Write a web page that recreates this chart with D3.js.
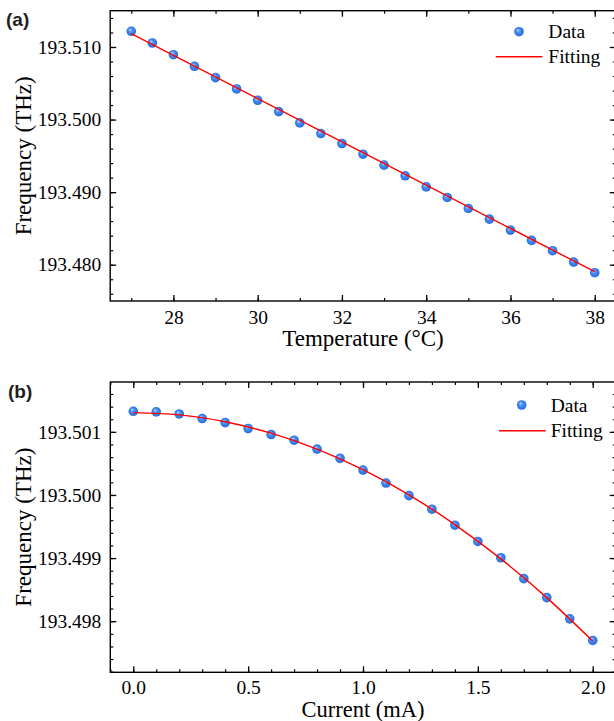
<!DOCTYPE html>
<html>
<head>
<meta charset="utf-8">
<script src="https://cdn.jsdelivr.net/npm/d3@7"></script>
<style>
  html, body { margin: 0; padding: 0; background: #fff; }
  svg { display: block; }
</style>
</head>
<body>
<script>
// ---------- Data ----------
// Panel (a): temperature sweep
const tempX = [27, 27.5, 28, 28.5, 29, 29.5, 30, 30.5, 31, 31.5, 32, 32.5, 33, 33.5, 34, 34.5, 35, 35.5, 36, 36.5, 37, 37.5, 38];
const tempFreq = [193.51216, 193.51055, 193.50894, 193.50734, 193.50578, 193.50422, 193.50266, 193.50110,
                  193.49954, 193.49807, 193.49670, 193.49523, 193.49372, 193.49225, 193.49073, 193.48927,
                  193.48775, 193.48628, 193.48477, 193.48335, 193.48193, 193.48037, 193.47890];
const tempFitX = [27, 32.5, 38];
const tempFitY = [193.51183, 193.49543, 193.47904];
const tempXTicks = [28, 30, 32, 34, 36, 38];
const tempYTicks = [193.480, 193.490, 193.500, 193.510];

// Panel (b): current sweep
const curX = [0.0, 0.1, 0.2, 0.3, 0.4, 0.5, 0.6, 0.7, 0.8, 0.9, 1.0, 1.1, 1.2, 1.3, 1.4, 1.5, 1.6, 1.7, 1.8, 1.9, 2.0];
const curFreq = [193.501326, 193.501316, 193.501284, 193.501211, 193.501147, 193.501053, 193.500958, 193.500868,
                 193.500726, 193.500579, 193.500395, 193.500189, 193.499989, 193.499774, 193.499521, 193.499263,
                 193.499005, 193.498674, 193.498374, 193.498037, 193.497695];
const curFitX = [0.0, 0.2, 0.4, 0.6, 0.8, 1.0, 1.2, 1.4, 1.6, 1.8, 2.0];
const curFitY = [193.501305, 193.501269, 193.501160, 193.500979, 193.500726, 193.500400,
                 193.500002, 193.499531, 193.498988, 193.498373, 193.497685];
const curXTicks = [0.0, 0.5, 1.0, 1.5, 2.0];
const curYTicks = [193.498, 193.499, 193.500, 193.501];

const legendLabels = ["Data", "Fitting"];
const panelLabels = ["(a)", "(b)"];
const xTitles = ["Temperature (°C)", "Current (mA)"];
const yTitle = "Frequency (THz)";

// ---------- Drawing ----------
const W = 614, H = 721;
const svg = d3.select("body").append("svg").attr("width", W).attr("height", H);

const defs = svg.append("defs");
const grad = defs.append("radialGradient").attr("id", "ball")
  .attr("cx", "50%").attr("cy", "50%").attr("r", "55%").attr("fx", "36%").attr("fy", "32%");
grad.append("stop").attr("offset", "0%").attr("stop-color", "#c2dcff");
grad.append("stop").attr("offset", "35%").attr("stop-color", "#4d92f5");
grad.append("stop").attr("offset", "100%").attr("stop-color", "#1f66d8");

const serif = '"Liberation Serif", "Times New Roman", serif';

function panel(cfg) {
  const x = d3.scaleLinear().domain(cfg.xDomain).range([cfg.left, cfg.right]);
  const y = d3.scaleLinear().domain(cfg.yDomain).range([cfg.bottom, cfg.top]);
  const g = svg.append("g");

  const minorX = d3.range(cfg.xMinorStart, cfg.xDomain[1] + 1e-9, cfg.xMinorStep).map(v => +v.toFixed(6));
  const minorY = d3.range(cfg.yMinorStart, cfg.yDomain[1] + 1e-12, cfg.yMinorStep).map(v => +v.toFixed(7));

  function axisPair(axisFn, pos, ticks, minor, fmt, transform, pad) {
    g.append("g").attr("transform", transform)
      .call(axisFn(pos).tickValues(minor).tickSize(-3).tickFormat(""))
      .call(s => s.select(".domain").remove())
      .call(s => s.selectAll(".tick line").attr("stroke", "#000").attr("stroke-width", 1.2));
    g.append("g").attr("transform", transform)
      .call(axisFn(pos).tickValues(ticks).tickSize(-6).tickPadding(pad).tickFormat(fmt))
      .call(s => s.select(".domain").remove())
      .call(s => s.selectAll(".tick line").attr("stroke", "#000").attr("stroke-width", 1.3))
      .call(s => s.selectAll(".tick text")
        .attr("font-family", serif).attr("font-size", 19.5).attr("fill", "#000"));
  }

  axisPair(d3.axisBottom, x, cfg.xTicks, minorX, cfg.xFmt, `translate(0,${cfg.bottom})`, cfg.xPad);
  axisPair(d3.axisTop, x, cfg.xTicks, minorX, "", `translate(0,${cfg.top})`, 9);
  axisPair(d3.axisLeft, y, cfg.yTicks, minorY, cfg.yFmt, `translate(${cfg.left},0)`, 9);
  axisPair(d3.axisRight, y, cfg.yTicks, minorY, "", `translate(${cfg.right},0)`, 9);

  // frame
  g.append("rect").attr("x", cfg.left).attr("y", cfg.top)
    .attr("width", cfg.right - cfg.left).attr("height", cfg.bottom - cfg.top)
    .attr("fill", "none").attr("stroke", "#000").attr("stroke-width", 1.4);

  // data points
  g.append("g").selectAll("circle").data(cfg.xs).join("circle")
    .attr("cx", (d) => x(d)).attr("cy", (d, i) => y(cfg.ys[i]))
    .attr("r", 4.8).attr("fill", "url(#ball)");

  // fit line
  const line = d3.line().x(d => x(d[0])).y(d => y(d[1])).curve(d3.curveNatural);
  g.append("path").datum(cfg.fitX.map((v, i) => [v, cfg.fitY[i]]))
    .attr("d", line).attr("fill", "none").attr("stroke", "#ff0000").attr("stroke-width", 1.4);

  // axis titles
  g.append("text").attr("x", (cfg.left + cfg.right) / 2).attr("y", cfg.xTitleY)
    .attr("text-anchor", "middle").attr("font-family", serif).attr("font-size", cfg.xTitleSize)
    .text(cfg.xTitle);
  g.append("text").attr("transform", `translate(31,${(cfg.top + cfg.bottom) / 2}) rotate(-90)`)
    .attr("text-anchor", "middle").attr("font-family", serif).attr("font-size", 23)
    .text(yTitle);

  // panel label
  g.append("text").attr("x", cfg.labelX).attr("y", cfg.labelY)
    .attr("font-family", '"Liberation Sans", Arial, sans-serif').attr("font-weight", "bold")
    .attr("font-size", 19).attr("fill", "#231f20").text(cfg.label);

  // legend
  const L = cfg.legend;
  g.append("circle").attr("cx", L.mx).attr("cy", L.my).attr("r", 4.8).attr("fill", "url(#ball)");
  g.append("line").attr("x1", L.lx1).attr("x2", L.lx2).attr("y1", L.ly).attr("y2", L.ly)
    .attr("stroke", "#ff0000").attr("stroke-width", 1.4);
  legendLabels.forEach((t, i) => {
    g.append("text").attr("x", L.tx).attr("y", L.ty[i])
      .attr("font-family", serif).attr("font-size", 19.5).text(t);
  });
}

panel({
  left: 110.2, right: 615.8, top: 10.7, bottom: 301,
  xDomain: [26.5, 38.5], yDomain: [193.475, 193.515],
  xTicks: tempXTicks, yTicks: tempYTicks,
  xMinorStart: 27, xMinorStep: 1, yMinorStart: 193.476, yMinorStep: 0.002,
  xFmt: d3.format("d"), yFmt: d3.format(".3f"), xPad: 9,
  xs: tempX, ys: tempFreq, fitX: tempFitX, fitY: tempFitY,
  xTitle: xTitles[0], xTitleY: 346, xTitleSize: 23,
  label: panelLabels[0], labelX: 6, labelY: 26,
  legend: { mx: 519, my: 31.7, lx1: 495.7, lx2: 542.3, ly: 56.7, tx: 548.3, ty: [37.7, 63.3] }
});

panel({
  left: 110.3, right: 615.7, top: 382, bottom: 672.3,
  xDomain: [-0.1, 2.1], yDomain: [193.49719, 193.50179],
  xTicks: curXTicks, yTicks: curYTicks,
  xMinorStart: -0.1, xMinorStep: 0.1, yMinorStart: 193.4972, yMinorStep: 0.0002,
  xFmt: d3.format(".1f"), yFmt: d3.format(".3f"), xPad: 8,
  xs: curX, ys: curFreq, fitX: curFitX, fitY: curFitY,
  xTitle: xTitles[1], xTitleY: 717, xTitleSize: 22.5,
  label: panelLabels[1], labelX: 8, labelY: 398,
  legend: { mx: 521.7, my: 405, lx1: 499, lx2: 545.7, ly: 430.7, tx: 550.7, ty: [411.7, 437.3] }
});
</script>
</body>
</html>
